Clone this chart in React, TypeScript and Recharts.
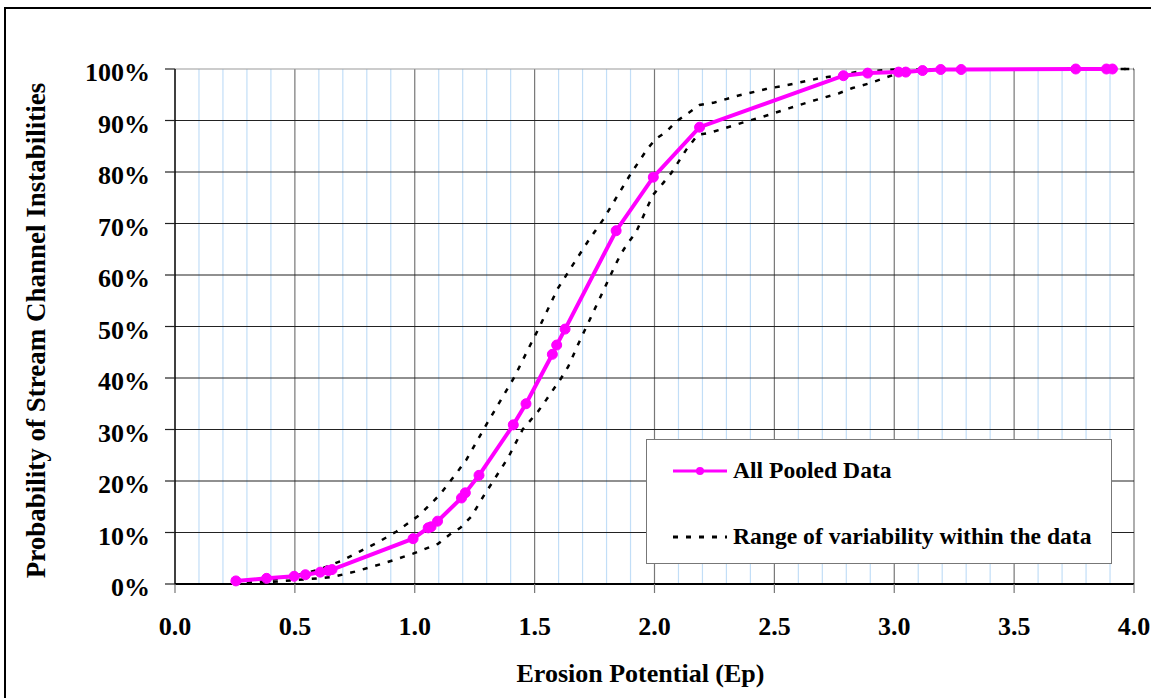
import { LineChart, Line, XAxis, YAxis, ReferenceLine, Legend } from 'recharts';

// All Pooled Data (Ep, %)
const pooledX = [0.254, 0.382, 0.497, 0.544, 0.606, 0.64, 0.655, 0.993, 1.056, 1.068, 1.095, 1.195, 1.211, 1.268, 1.411, 1.464, 1.574, 1.592, 1.627, 1.84, 1.995, 2.188, 2.788, 2.889, 3.018, 3.048, 3.118, 3.194, 3.279, 3.757, 3.885, 3.91];
const pooledY = [0.6, 1.1, 1.5, 1.8, 2.3, 2.6, 2.8, 8.8, 10.9, 11.1, 12.2, 16.7, 17.7, 21.1, 30.9, 35.0, 44.6, 46.4, 49.5, 68.6, 79.0, 88.7, 98.7, 99.2, 99.4, 99.4, 99.7, 99.9, 99.9, 100, 100, 100];

// range of variability - upper bound
const upperX = [0.3, 0.4, 0.5, 0.6, 0.7, 0.77, 0.85, 0.924, 1.02, 1.104, 1.18, 1.215, 1.298, 1.36, 1.417, 1.472, 1.521, 1.597, 1.66, 1.722, 1.785, 1.847, 1.903, 1.972, 2.007, 2.049, 2.09, 2.14, 2.188, 2.25, 2.347, 2.465, 2.576, 2.688, 2.77, 2.854, 2.94, 3.0, 4.0];
const upperY = [0.2, 0.8, 1.6, 2.8, 4.6, 6.3, 8.2, 10.2, 13.4, 17.3, 21.9, 24.1, 30.9, 35.8, 40.3, 45.5, 50.0, 57.4, 62.0, 66.5, 70.7, 75.5, 79.8, 84.6, 86.5, 87.8, 89.8, 91.4, 93.0, 93.5, 94.8, 96.1, 97.1, 98.2, 98.8, 99.5, 99.7, 99.9, 100];

// range of variability - lower bound
const lowerX = [0.3, 0.4, 0.514, 0.6, 0.66, 0.75, 0.826, 0.91, 0.993, 1.097, 1.146, 1.19, 1.236, 1.29, 1.326, 1.389, 1.45, 1.514, 1.549, 1.611, 1.64, 1.687, 1.736, 1.785, 1.833, 1.86, 1.889, 1.924, 1.993, 2.035, 2.07, 2.132, 2.18, 2.23, 2.382, 2.45, 2.563, 2.674, 2.77, 2.826, 2.896, 2.993, 3.06, 3.2, 4.0];
const lowerY = [0.1, 0.4, 0.8, 1.1, 1.4, 2.4, 3.4, 4.6, 5.9, 7.8, 9.6, 10.9, 13.1, 17.3, 19.9, 24.5, 30.0, 33.5, 35.8, 40.0, 42.2, 47.1, 51.9, 56.8, 61.6, 64.1, 66.2, 68.4, 75.5, 77.8, 79.8, 84.3, 87.2, 87.6, 89.8, 90.7, 92.4, 94.0, 95.3, 96.3, 97.2, 98.8, 99.5, 99.9, 100];

const xTicks = [0, 0.5, 1, 1.5, 2, 2.5, 3, 3.5, 4];
const xMinor = [0.1, 0.2, 0.3, 0.4, 0.6, 0.7, 0.8, 0.9, 1.1, 1.2, 1.3, 1.4, 1.6, 1.7, 1.8, 1.9, 2.1, 2.2, 2.3, 2.4, 2.6, 2.7, 2.8, 2.9, 3.1, 3.2, 3.3, 3.4, 3.6, 3.7, 3.8, 3.9];
const yTicks = [0, 10, 20, 30, 40, 50, 60, 70, 80, 90, 100];

const zip = (xs: number[], ys: number[]) => xs.map((x, i) => ({ x, y: ys[i] }));
const pooled = zip(pooledX, pooledY);
const upper = zip(upperX, upperY);
const lower = zip(lowerX, lowerY);

const font = '"Liberation Serif", "Times New Roman", serif';
const PINK = '#ff00ff';

const renderLegend = () => (
  <div
    style={{
      width: 464,
      height: 123,
      border: '1.5px solid #777',
      background: '#fff',
      fontFamily: font,
      fontWeight: 'bold',
      fontSize: 23.6,
      color: '#000',
      position: 'relative',
    }}
  >
    <div style={{ position: 'absolute', left: 26, top: 17, display: 'flex', alignItems: 'center' }}>
      <svg width={58} height={12}>
        <line x1={0} y1={6} x2={54} y2={6} stroke={PINK} strokeWidth={3} />
        <circle cx={27} cy={6} r={4} fill={PINK} />
      </svg>
      <span style={{ marginLeft: 2 }}>All Pooled Data</span>
    </div>
    <div style={{ position: 'absolute', left: 26, top: 83, display: 'flex', alignItems: 'center' }}>
      <svg width={58} height={12}>
        <line x1={0} y1={6} x2={54} y2={6} stroke="#000" strokeWidth={3} strokeDasharray="5 8" />
      </svg>
      <span style={{ marginLeft: 2 }}>Range of variability within the data</span>
    </div>
  </div>
);

export default function App() {
  return (
    <div style={{ position: 'absolute', left: 0, top: 0, width: 1151, height: 698, overflow: 'hidden', background: '#fff' }}>
      <div style={{ position: 'absolute', left: 4, top: 7, width: 1300, height: 900, border: '2px solid #000' }} />
      <div style={{ position: 'absolute', left: 0, top: 0 }}>
        <LineChart width={1151} height={698} margin={{ top: 69, right: 17, bottom: 0, left: 0 }}>
          {xMinor.map((v) => (
            <ReferenceLine key={'m' + v} x={v} stroke="#c2def7" strokeWidth={1.2} />
          ))}
          {xTicks.slice(1).map((v) => (
            <ReferenceLine key={'M' + v} x={v} stroke="#777" strokeWidth={1.2} />
          ))}
          {yTicks.slice(1).map((v) => (
            <ReferenceLine key={'h' + v} y={v} stroke={v === 100 ? '#999' : '#222'} strokeWidth={1.2} />
          ))}
          <XAxis
            dataKey="x"
            type="number"
            domain={[0, 4]}
            ticks={xTicks}
            allowDuplicatedCategory={false}
            tickFormatter={(v: number) => v.toFixed(1)}
            height={114}
            tickSize={9}
            tickMargin={24}
            axisLine={{ stroke: '#000', strokeWidth: 2 }}
            tickLine={{ stroke: '#777', strokeWidth: 1.2 }}
            tick={{ fill: '#000', fontFamily: font, fontWeight: 'bold', fontSize: 26 }}
            label={{
              value: 'Erosion Potential (Ep)',
              position: 'insideBottom',
              offset: 16,
              dx: -14,
              style: { fill: '#000', fontFamily: font, fontWeight: 'bold', fontSize: 26 },
            }}
          />
          <YAxis
            type="number"
            domain={[0, 100]}
            ticks={yTicks}
            tickFormatter={(v: number) => `${v}%`}
            width={175}
            tickSize={10}
            tickMargin={15}
            axisLine={{ stroke: '#000', strokeWidth: 1.5 }}
            tickLine={{ stroke: '#222', strokeWidth: 1.2 }}
            tick={{ fill: '#000', fontFamily: font, fontWeight: 'bold', fontSize: 26, dy: 3 }}
            label={{
              value: 'Probability of Stream Channel Instabilities',
              angle: -90,
              position: 'insideLeft',
              offset: 35,
              dy: 4,
              style: { fill: '#000', fontFamily: font, fontWeight: 'bold', fontSize: 27, textAnchor: 'middle' },
            }}
          />
          <Line data={upper} dataKey="y" type="linear" stroke="#000" strokeWidth={2.5} strokeDasharray="5 8" dot={false} isAnimationActive={false} />
          <Line data={lower} dataKey="y" type="linear" stroke="#000" strokeWidth={2.5} strokeDasharray="5 8" dot={false} isAnimationActive={false} />
          <Line
            data={pooled}
            dataKey="y"
            type="linear"
            stroke={PINK}
            strokeWidth={4}
            dot={{ r: 5, fill: PINK, stroke: PINK, strokeWidth: 1 }}
            isAnimationActive={false}
          />
          <Legend
            layout="vertical"
            align="center"
            verticalAlign="middle"
            content={renderLegend}
            wrapperStyle={{ left: 646, top: 439, width: 467, height: 126 }}
          />
        </LineChart>
      </div>
    </div>
  );
}
